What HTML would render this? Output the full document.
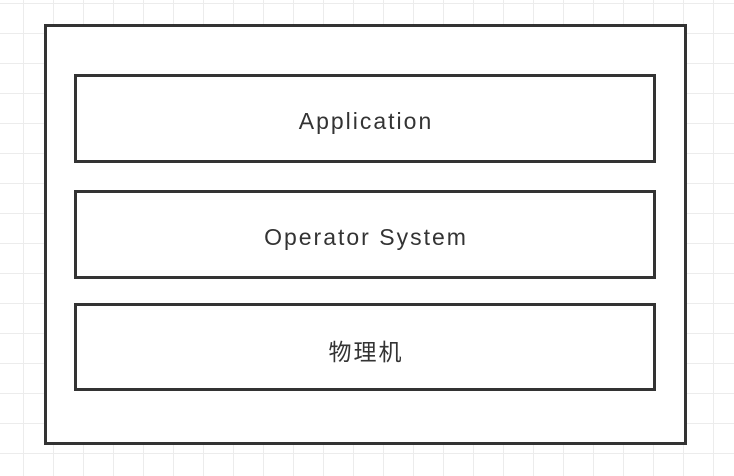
<!DOCTYPE html>
<html><head><meta charset="utf-8"><style>
body{margin:0;width:734px;height:476px;overflow:hidden;background:#fff;
background-image:linear-gradient(to right,#ececec 1px,transparent 1px),linear-gradient(to bottom,#ececec 1px,transparent 1px);
background-size:30px 30px;background-position:23px 3px;position:relative;
font-family:"Liberation Sans","Noto Sans CJK SC",sans-serif;}
.b{position:absolute;box-sizing:border-box;border:3px solid #333;background:#fff;}
.t{display:flex;align-items:center;justify-content:center;font-size:23px;color:#333;letter-spacing:2px;padding-top:5px;padding-left:2px;}
</style></head><body>
<div class="b" style="left:44px;top:24px;width:643px;height:421px"></div>
<div class="b t" style="left:74px;top:74px;width:582px;height:89px">Application</div>
<div class="b t" style="left:74px;top:190px;width:582px;height:89px">Operator System</div>
<div class="b t" style="left:74px;top:303px;width:582px;height:88px">物理机</div>
</body></html>
